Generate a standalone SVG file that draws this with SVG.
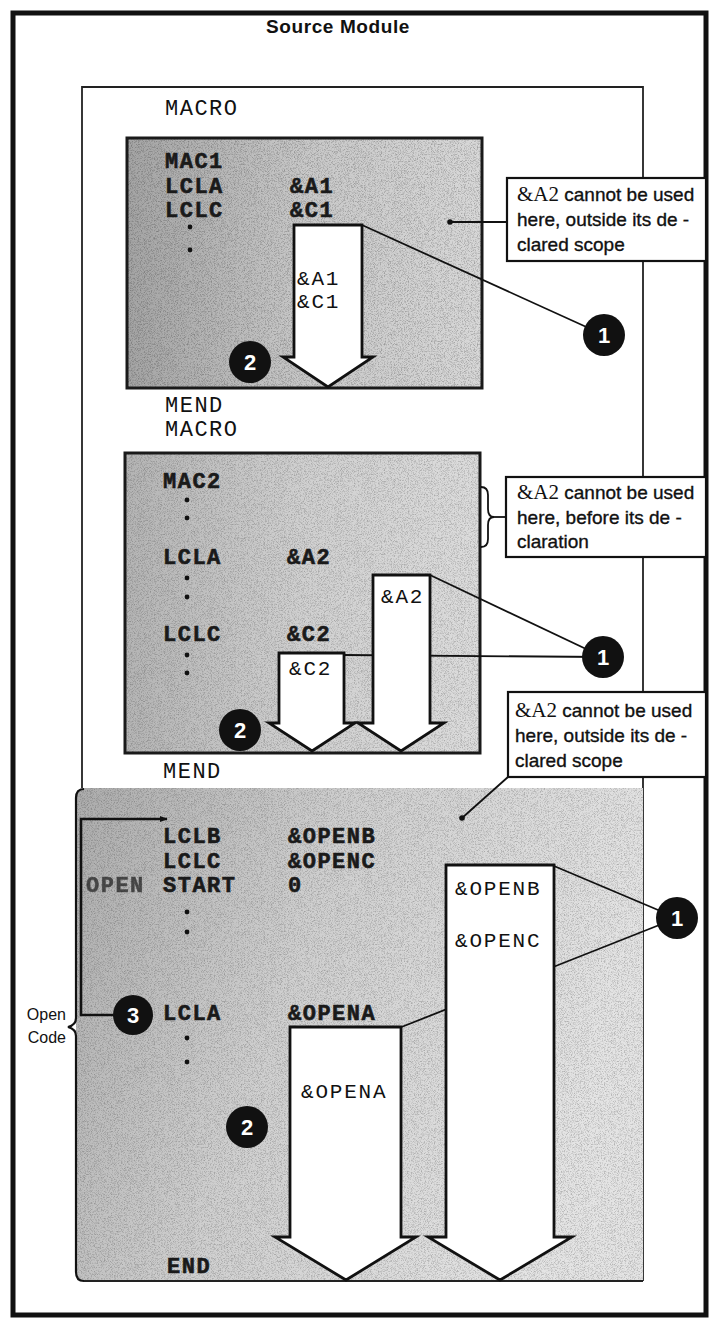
<svg xmlns="http://www.w3.org/2000/svg" width="714" height="1320" viewBox="0 0 714 1320">
<defs>
<style>
.frame{fill:none;stroke:#111;stroke-width:5}
.thin{fill:none;stroke:#222;stroke-width:1.8}
.box{stroke:#1a1a1a;stroke-width:3}
.callout{fill:#fff;stroke:#111;stroke-width:2.2}
.arrow{fill:#fff;stroke:#111;stroke-width:2.8;stroke-linejoin:miter}
.line{fill:none;stroke:#111;stroke-width:1.8}
.title{font-family:"Liberation Sans",Arial,sans-serif;font-weight:bold;font-size:19px;letter-spacing:0.6px;fill:#111}
.mono{font-family:"Liberation Mono","Courier New",monospace;font-size:22px;letter-spacing:1.5px;fill:#111}
.code{font-family:"Liberation Mono","Courier New",monospace;font-weight:bold;font-size:22px;letter-spacing:1.5px;fill:#1a1a1a;stroke:#1a1a1a;stroke-width:0.6}
.lbl{font-family:"Liberation Mono","Courier New",monospace;font-size:21px;letter-spacing:1.8px;fill:#111}
.note{font-family:"Liberation Sans",Arial,sans-serif;font-size:19px;fill:#111;stroke:#111;stroke-width:0.35}
.notev{font-family:"Liberation Serif","Times New Roman",serif;font-size:21px;stroke-width:0}
.side{font-family:"Liberation Sans",Arial,sans-serif;font-size:16px;fill:#111;text-anchor:end}
.badge{fill:#111}
.num{font-family:"Liberation Sans",Arial,sans-serif;font-weight:bold;font-size:22px;fill:#fff;text-anchor:middle}
.dot{fill:#111}
</style>
<linearGradient id="g1" x1="0" y1="0" x2="1" y2="0">
<stop offset="0" stop-color="#a4a4a4"/><stop offset="0.5" stop-color="#c8c8c8"/><stop offset="1" stop-color="#d8d8d8"/>
</linearGradient>
<linearGradient id="g2" x1="0" y1="0" x2="1" y2="0">
<stop offset="0" stop-color="#b4b4b4"/><stop offset="0.5" stop-color="#d0d0d0"/><stop offset="1" stop-color="#dcdcdc"/>
</linearGradient>
<linearGradient id="g3" x1="0" y1="0" x2="1" y2="0.3">
<stop offset="0" stop-color="#acacac"/><stop offset="0.45" stop-color="#cfcfcf"/><stop offset="1" stop-color="#e4e4e4"/>
</linearGradient>
<filter id="grain" x="0" y="0" width="1" height="1">
<feTurbulence type="fractalNoise" baseFrequency="1.3" numOctaves="1" seed="7" result="t"/>
<feColorMatrix in="t" type="matrix" values="0 0 0 0 0  0 0 0 0 0  0 0 0 0 0  0 0 0 3 -1.35" result="m"/>
<feComposite in="m" in2="SourceGraphic" operator="in"/>
</filter>
<marker id="ah" viewBox="0 0 10 10" refX="9" refY="5" markerWidth="8" markerHeight="8" markerUnits="userSpaceOnUse" orient="auto">
<path d="M0,1 L10,5 L0,9 Z" fill="#111"/>
</marker>
</defs>

<rect width="714" height="1320" fill="#fff"/>

<g id="source-module">
<rect class="frame" x="13" y="13" width="693" height="1302"/>
<text class="title" x="338" y="33" text-anchor="middle">Source Module</text>
</g>

<g id="inner-box">
<path class="thin" d="M82,788 V87 H643 V1281"/>
<text class="mono" x="165" y="115">MACRO</text>
</g>

<g id="macro1">
<rect class="box" x="127" y="138" width="355" height="250" fill="url(#g1)"/>
<rect x="128" y="139" width="353" height="248" fill="#000" opacity="0.25" filter="url(#grain)"/>
<text class="code" x="165" y="168">MAC1</text>
<text class="code" x="165" y="193">LCLA</text>
<text class="code" x="290" y="193">&amp;A1</text>
<text class="code" x="165" y="217">LCLC</text>
<text class="code" x="290" y="217">&amp;C1</text>
<circle class="dot" cx="190" cy="227" r="2.4"/>
<circle class="dot" cx="190" cy="250" r="2.4"/>
</g>

<g id="between">
<text class="mono" x="165" y="412">MEND</text>
<text class="mono" x="165" y="436">MACRO</text>
</g>

<g id="macro2">
<rect class="box" x="125" y="453" width="355" height="300" fill="url(#g2)"/>
<rect x="126" y="454" width="353" height="298" fill="#000" opacity="0.22" filter="url(#grain)"/>
<text class="code" x="163" y="488">MAC2</text>
<circle class="dot" cx="187" cy="500" r="2.4"/>
<circle class="dot" cx="187" cy="518" r="2.4"/>
<text class="code" x="163" y="564">LCLA</text>
<text class="code" x="287" y="564">&amp;A2</text>
<circle class="dot" cx="187" cy="578" r="2.4"/>
<circle class="dot" cx="187" cy="597" r="2.4"/>
<text class="code" x="163" y="641">LCLC</text>
<text class="code" x="287" y="641">&amp;C2</text>
<circle class="dot" cx="187" cy="655" r="2.4"/>
<circle class="dot" cx="187" cy="673" r="2.4"/>
</g>

<g id="mend2">
<text class="mono" x="163" y="778">MEND</text>
</g>

<g id="open-code">
<path d="M84,788 H643 V1281 H84 q-8,0 -8,-9 V797 q0,-9 8,-9 Z" fill="url(#g3)"/>
<path d="M84,788 H643 V1281 H84 q-8,0 -8,-9 V797 q0,-9 8,-9 Z" fill="#000" opacity="0.22" filter="url(#grain)"/>
<path class="thin" d="M84,1281 H643"/>
<path fill="none" stroke="#111" stroke-width="2.2" d="M84,789 q-8,0 -8,9 V1018 q0,7 -8,9 q8,2 8,9 V1272 q0,9 8,9"/>
<text class="side" x="66" y="1020">Open</text>
<text class="side" x="66" y="1043">Code</text>
<text class="code" x="163" y="843">LCLB</text>
<text class="code" x="288" y="843">&amp;OPENB</text>
<text class="code" x="163" y="868">LCLC</text>
<text class="code" x="288" y="868">&amp;OPENC</text>
<text class="code" x="86" y="892" opacity="0.7">OPEN</text>
<text class="code" x="163" y="892">START</text>
<text class="code" x="288" y="892">0</text>
<circle class="dot" cx="187" cy="912" r="2.4"/>
<circle class="dot" cx="187" cy="932" r="2.4"/>
<text class="code" x="163" y="1020">LCLA</text>
<text class="code" x="288" y="1020">&amp;OPENA</text>
<circle class="dot" cx="187" cy="1038" r="2.4"/>
<circle class="dot" cx="187" cy="1062" r="2.4"/>
<text class="code" x="167" y="1273">END</text>
</g>

<g id="connectors">
<path class="line" d="M362,225 L604,335"/>
<path class="line" d="M430,575 L603,657"/>
<path class="line" d="M344,655 L603,657"/>
<path class="line" stroke-width="2.2" d="M554,866 L677,918"/>
<path class="line" stroke-width="2.2" d="M399,1028 L677,918"/>
<path class="line" stroke-width="2.2" d="M507,222 H450"/>
<circle class="dot" cx="450" cy="222" r="2.8"/>
<path class="line" stroke-width="2.2" d="M508,777 L462,818"/>
<circle class="dot" cx="462" cy="818" r="2.8"/>
<path fill="none" stroke="#111" stroke-width="1.8" d="M481,487 q7,0 7,8 v14 q0,8 6,8 q-6,0 -6,8 v14 q0,8 -7,8"/>
<path class="line" d="M494,517 H506"/>
<path fill="none" stroke="#111" stroke-width="2.6" d="M113,1015 H81 V819 H167" marker-end="url(#ah)"/>
</g>

<g id="arrow-a1c1">
<path class="arrow" d="M294,225 H362 V357 H373 L328,387 L283,357 H294 Z"/>
<text class="lbl" x="297" y="285">&amp;A1</text>
<text class="lbl" x="297" y="308">&amp;C1</text>
</g>

<g id="arrow-c2">
<path class="arrow" d="M279,653 H344 V723 H355 L312,751 L269,723 H279 Z"/>
<text class="lbl" x="289" y="675">&amp;C2</text>
</g>

<g id="arrow-a2">
<path class="arrow" d="M373,575 H430 V723 H444 L401,751 L358,723 H373 Z"/>
<text class="lbl" x="381" y="603">&amp;A2</text>
</g>

<g id="arrow-openb-openc">
<path class="arrow" d="M446,865 H554 V1237 H572 L500,1280 L428,1237 H446 Z"/>
<text class="lbl" x="455" y="895">&amp;OPENB</text>
<text class="lbl" x="455" y="947">&amp;OPENC</text>
</g>

<g id="arrow-opena">
<path class="arrow" d="M290,1027 H401 V1237 H416 L346,1280 L275,1237 H290 Z"/>
<text class="lbl" x="301" y="1098">&amp;OPENA</text>
</g>

<g id="note1">
<rect class="callout" x="507" y="178" width="199" height="83"/>
<text class="note" x="517" y="201"><tspan class="notev">&amp;A2</tspan> cannot be used</text>
<text class="note" x="517" y="226">here, outside its de -</text>
<text class="note" x="517" y="251">clared scope</text>
</g>

<g id="note2">
<rect class="callout" x="506" y="477" width="200" height="80"/>
<text class="note" x="517" y="499"><tspan class="notev">&amp;A2</tspan> cannot be used</text>
<text class="note" x="517" y="524">here, before its de -</text>
<text class="note" x="517" y="548">claration</text>
</g>

<g id="note3">
<rect class="callout" x="508" y="692" width="198" height="85"/>
<text class="note" x="515" y="717"><tspan class="notev">&amp;A2</tspan> cannot be used</text>
<text class="note" x="515" y="742">here, outside its de -</text>
<text class="note" x="515" y="767">clared scope</text>
</g>

<g id="badge1a"><circle class="badge" cx="604" cy="335" r="21"/><text class="num" x="604" y="343">1</text></g>
<g id="badge1b"><circle class="badge" cx="603" cy="657" r="21"/><text class="num" x="603" y="665">1</text></g>
<g id="badge1c"><circle class="badge" cx="677" cy="918" r="21"/><text class="num" x="677" y="926">1</text></g>
<g id="badge2a"><circle class="badge" cx="250" cy="362" r="21"/><text class="num" x="250" y="370">2</text></g>
<g id="badge2b"><circle class="badge" cx="240" cy="730" r="21"/><text class="num" x="240" y="738">2</text></g>
<g id="badge2c"><circle class="badge" cx="247" cy="1127" r="21"/><text class="num" x="247" y="1135">2</text></g>
<g id="badge3"><circle class="badge" cx="133" cy="1015" r="20"/><text class="num" x="133" y="1023">3</text></g>
</svg>
